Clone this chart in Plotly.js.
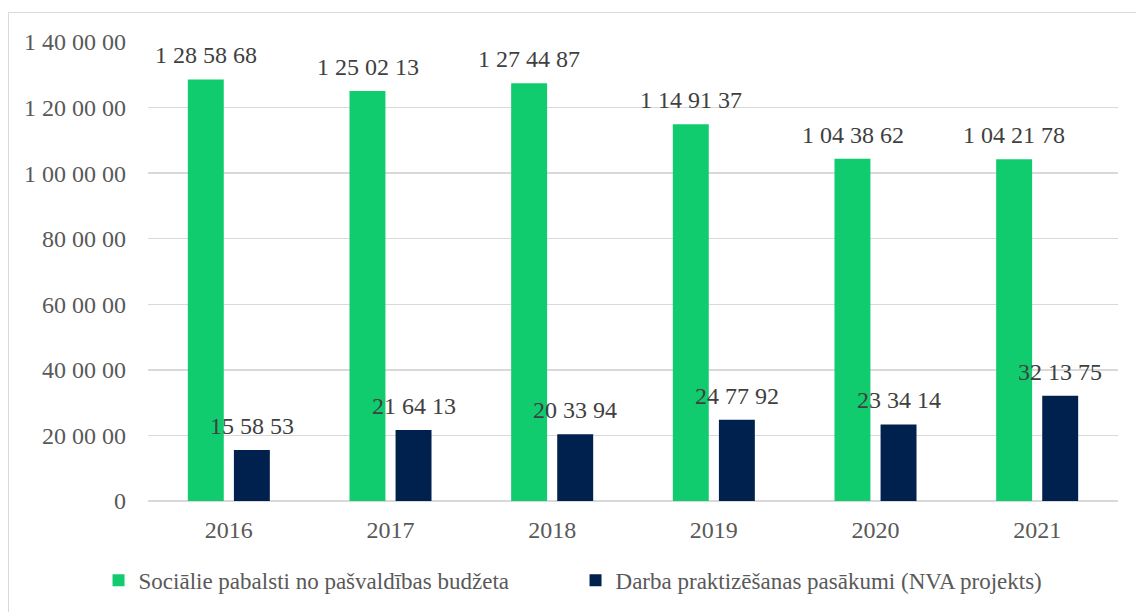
<!DOCTYPE html>
<html>
<head>
<meta charset="utf-8">
<script src="https://cdn.plot.ly/plotly-3.0.1.min.js"></script>
<style>
html,body{margin:0;padding:0;background:#fff;}
#frame{position:absolute;left:8px;top:12px;width:1140px;height:610px;border:1px solid #d9d9d9;box-sizing:border-box;}
#chart{position:absolute;left:0;top:0;width:1136px;height:612px;}
</style>
</head>
<body>
<div id="frame"></div>
<div id="chart"></div>
<script>
const years = ['2016','2017','2018','2019','2020','2021'];
const socialBenefits = [1285868, 1250213, 1274487, 1149137, 1043862, 1042178];
const workPractice = [155853, 216413, 203394, 247792, 233414, 321375];
const seriesNames = ['Sociālie pabalsti no pašvaldības budžeta', 'Darba praktizēšanas pasākumi (NVA projekts)'];
const yTicks = [0, 200000, 400000, 600000, 800000, 1000000, 1200000, 1400000];

function fmt(n){
  let s = String(Math.round(n));
  const parts = [];
  while (s.length > 2){ parts.unshift(s.slice(-2)); s = s.slice(0, -2); }
  parts.unshift(s);
  return parts.join(' ');
}

const colors = ['#10cc6e', '#00214d'];
const font = '"Liberation Serif", "Times New Roman", serif';

const traces = [socialBenefits, workPractice].map((vals, i) => ({
  type: 'bar', x: years, y: vals, name: seriesNames[i],
  marker: {color: colors[i]}, hoverinfo: 'x+y'
}));

const annotations = [];
[socialBenefits, workPractice].forEach((vals, i) => {
  vals.forEach((v, j) => {
    annotations.push({
      x: j, y: v, xref: 'x', yref: 'y', text: fmt(v), showarrow: false,
      yanchor: 'bottom', yshift: 9, xshift: i === 0 ? -23 : 23,
      font: {family: font, size: 24, color: '#404040'}
    });
  });
});

const layout = {
  width: 1136, height: 612,
  paper_bgcolor: 'rgba(0,0,0,0)', plot_bgcolor: 'rgba(0,0,0,0)',
  margin: {l: 148, r: 18, t: 42, b: 110},
  barmode: 'group', bargap: 0.43, bargroupgap: 0.22,
  font: {family: font, color: '#595959', size: 24},
  xaxis: {type: 'category', range: [-0.5, 5.5], autorange: false, showgrid: false, showline: false, ticks: '',
          ticklabelstandoff: 12, tickfont: {family: font, size: 24, color: '#595959'}},
  yaxis: {range: [0, 1400000], autorange: false, tickvals: yTicks, ticktext: yTicks.map(fmt), showgrid: true, gridcolor: '#d9d9d9', gridwidth: 1.5,
          zeroline: true, zerolinecolor: '#d9d9d9', zerolinewidth: 1.5, ticks: '', ticklen: 0, ticklabelstandoff: 21,
          tickfont: {family: font, size: 24, color: '#595959'}, automargin: false},
  showlegend: true,
  legend: {orientation: 'h', x: -0.051, xanchor: 'left', y: -0.17, yanchor: 'middle', entrywidth: 432, entrywidthmode: 'pixels',
           font: {family: font, size: 23, color: '#595959'}, itemwidth: 30, traceorder: 'normal'},
  annotations: annotations
};

Plotly.newPlot('chart', traces, layout, {displayModeBar: false, staticPlot: true});
</script>
</body>
</html>
